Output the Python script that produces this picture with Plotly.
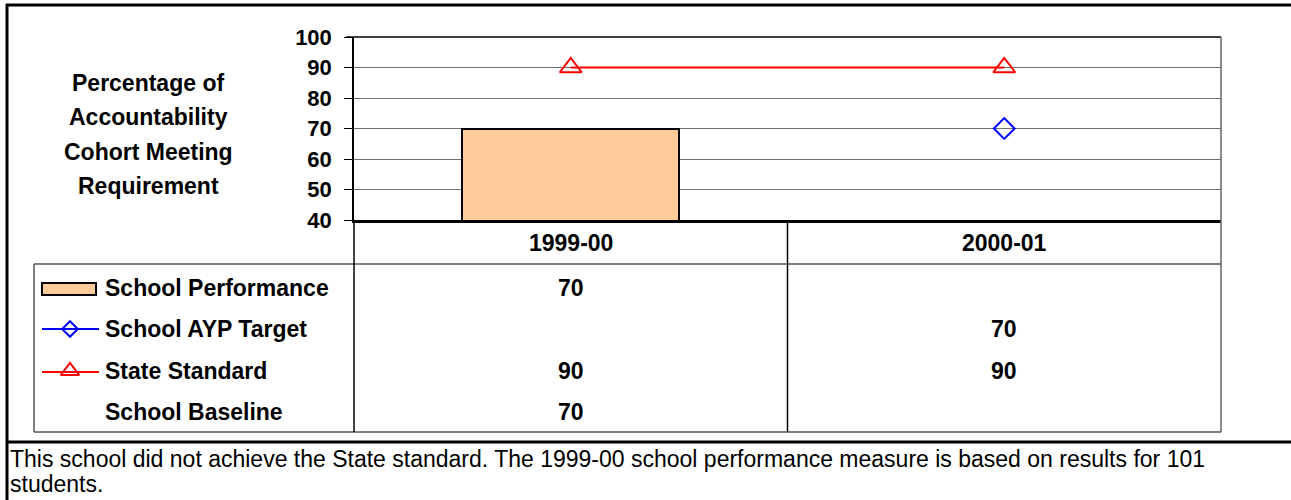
import plotly.graph_objects as go

# ---- data ----
categories = ["1999-00", "2000-01"]
school_performance = [70, None]
ayp_target = [None, 70]
state_standard = [90, 90]
school_baseline = [70, None]
row_labels = ["School Performance", "School AYP Target", "State Standard", "School Baseline"]
y_ticks = [40, 50, 60, 70, 80, 90, 100]
y_title_lines = ["Percentage of", "Accountability", "Cohort Meeting", "Requirement"]
footnote_lines = ["This school did not achieve the State standard. The 1999-00 school performance "
                  "measure is based on results for 101", "students."]

W, H = 1291, 500
FONT = "Liberation Sans, Arial, sans-serif"


def px(x):
    return x / W


def py(y):
    return 1 - y / H


PL, PR, PT, PB = 354, 1221, 37, 220

fig = go.Figure()

fig.add_trace(go.Bar(
    x=categories, y=school_performance, width=0.5,
    marker=dict(color="#FFCC99", line=dict(color="black", width=2)),
    showlegend=False, hoverinfo="skip"))
fig.add_trace(go.Scatter(
    x=categories, y=ayp_target, mode="lines+markers",
    line=dict(color="#0000FF", width=2),
    marker=dict(symbol="diamond-open", size=16, color="#0000FF", line=dict(width=2)),
    showlegend=False, cliponaxis=False))
fig.add_trace(go.Scatter(
    x=categories, y=state_standard, mode="lines+markers",
    line=dict(color="#FF0000", width=2),
    marker=dict(symbol="triangle-up-open", size=19, color="#FF0000", line=dict(width=2)),
    showlegend=False, cliponaxis=False))

# legend symbols inside the data table (separate pixel axes covering the page)
fig.add_trace(go.Scatter(
    x=[42, 99], y=[329, 329], xaxis="x2", yaxis="y2", mode="lines",
    line=dict(color="#0000FF", width=2), showlegend=False, hoverinfo="skip"))
fig.add_trace(go.Scatter(
    x=[70], y=[329], xaxis="x2", yaxis="y2", mode="markers",
    marker=dict(symbol="diamond-open", size=12, color="#0000FF", line=dict(width=2)),
    showlegend=False, hoverinfo="skip"))
fig.add_trace(go.Scatter(
    x=[42, 99], y=[372, 372], xaxis="x2", yaxis="y2", mode="lines",
    line=dict(color="#FF0000", width=2), showlegend=False, hoverinfo="skip"))
fig.add_trace(go.Scatter(
    x=[70], y=[371], xaxis="x2", yaxis="y2", mode="markers",
    marker=dict(symbol="triangle-up-open", size=16, color="#FF0000", line=dict(width=2)),
    showlegend=False, hoverinfo="skip"))

shapes = []


def hline(y, x0, x1, color="#555555", width=1.5):
    shapes.append(dict(type="line", xref="paper", yref="paper",
                       x0=px(x0), x1=px(x1), y0=py(y), y1=py(y),
                       line=dict(color=color, width=width)))


def vline(x, y0, y1, color="#555555", width=1.5):
    shapes.append(dict(type="line", xref="paper", yref="paper",
                       x0=px(x), x1=px(x), y0=py(y0), y1=py(y1),
                       line=dict(color=color, width=width)))


# outer frame
hline(5, 6, W, "black", 3)
vline(7, 4, H, "black", 3)
hline(442, 6, W, "black", 3)
# plot border
hline(PT, 346, PR, "black", 1.5)
vline(PR, PT, 432, "#666666", 1.5)
# table
hline(264, 34, PR)
hline(432, 34, PR)
vline(34, 264, 432)
vline(PL, PB, 432, "black", 1.5)
# category divider
shapes.append(dict(type="line", xref="x", yref="paper", x0=0.5, x1=0.5,
                   y0=py(432), y1=py(PB), line=dict(color="black", width=1.5)))
# legend bar symbol
shapes.append(dict(type="rect", xref="paper", yref="paper",
                   x0=px(42), x1=px(96), y0=py(295), y1=py(283),
                   fillcolor="#FFCC99", line=dict(color="black", width=2)))

annotations = []
# y-axis title, one annotation per line
for line, yy in zip(y_title_lines, [83, 117, 152, 186]):
    annotations.append(dict(text="<b>%s</b>" % line, xref="paper", yref="paper",
                            x=px(148), y=py(yy), xanchor="center", yanchor="middle",
                            showarrow=False, font=dict(family=FONT, size=23, color="black")))
# category headers
for c in categories:
    annotations.append(dict(text="<b>%s</b>" % c, xref="x", yref="paper", x=c, y=py(243),
                            xanchor="center", yanchor="middle", showarrow=False,
                            font=dict(family=FONT, size=23, color="black")))
row_y = [288, 329, 371, 412]
rows = [school_performance, ayp_target, state_standard, school_baseline]
for lab, yy, vals in zip(row_labels, row_y, rows):
    annotations.append(dict(text="<b>%s</b>" % lab, xref="paper", yref="paper",
                            x=px(103), y=py(yy), xanchor="left", yanchor="middle",
                            showarrow=False, font=dict(family=FONT, size=23, color="black")))
    for c, v in zip(categories, vals):
        if v is not None:
            annotations.append(dict(text="<b>%d</b>" % v, xref="x", yref="paper", x=c, y=py(yy),
                                    xanchor="center", yanchor="middle", showarrow=False,
                                    font=dict(family=FONT, size=23, color="black")))
# footnote
for line, yy in zip(footnote_lines, [459, 484]):
    annotations.append(dict(text=line, xref="paper", yref="paper", x=px(8), y=py(yy),
                            xanchor="left", yanchor="middle", showarrow=False, align="left",
                            font=dict(family=FONT, size=23, color="black")))

fig.update_layout(
    width=W, height=H, margin=dict(l=0, r=0, t=0, b=0, autoexpand=False),
    paper_bgcolor="white", plot_bgcolor="rgba(0,0,0,0)",
    bargap=0, showlegend=False,
    xaxis=dict(domain=[px(PL), px(PR)], type="category", range=[-0.5, 1.5],
               showticklabels=False, showgrid=False, zeroline=False,
               showline=True, linecolor="black", linewidth=2.5, ticks="", automargin=False),
    yaxis=dict(domain=[py(PB), py(PT)], range=[40, 100], tickvals=y_ticks,
               showgrid=True, gridcolor="#6f6f6f", gridwidth=1.2, zeroline=False,
               showline=True, linecolor="black", linewidth=1.5,
               ticks="outside", ticklen=8, tickcolor="black", tickwidth=1.2, automargin=False,
               ticklabelstandoff=8,
               tickfont=dict(family=FONT, size=22, color="black", weight="bold")),
    xaxis2=dict(domain=[0, 1], range=[0, W], visible=False, anchor="y2"),
    yaxis2=dict(domain=[0, 1], range=[H, 0], visible=False, anchor="x2"),
    shapes=shapes, annotations=annotations,
)

fig.write_html("out.html", config={"displayModeBar": False},
               post_script="document.body.style.margin='0px';")
